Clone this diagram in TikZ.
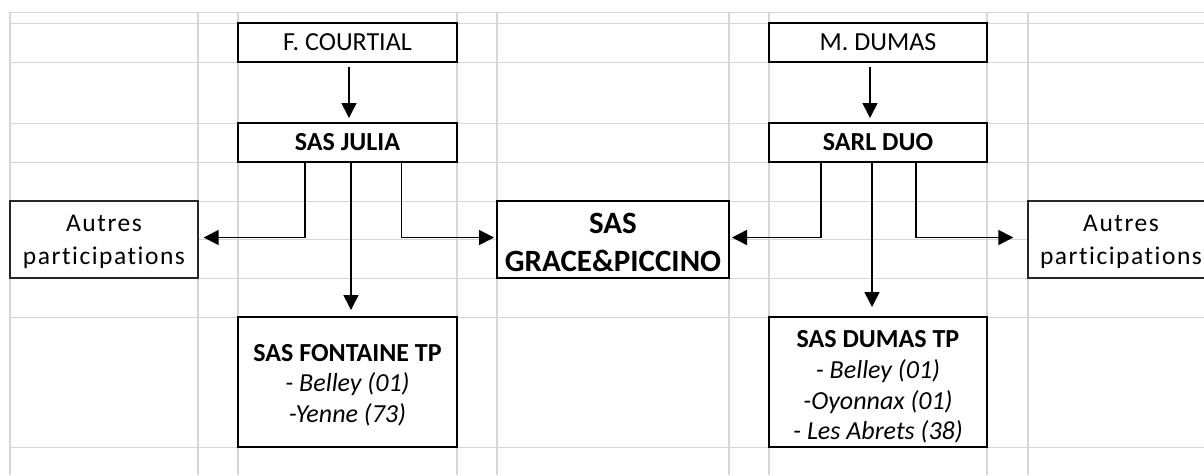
\documentclass[tikz,border=0pt]{standalone}
\usepackage{fontspec}
\setmainfont{Carlito}[Ligatures=NoCommon]
\usetikzlibrary{arrows.meta}
\definecolor{gridgray}{HTML}{D6D6D6}
\tikzset{
  gridv/.style={draw=gridgray, line width=1.6pt},
  gridh/.style={draw=gridgray, line width=1pt},
  entity/.style={draw=black, line width=2pt, fill=white, inner sep=0pt, align=center,
    font=\fontsize{26}{30.7}\selectfont},
  other/.style={draw=black!85, line width=1.4pt, fill=white, inner sep=0pt, align=center,
    font=\fontsize{25.5}{33}\selectfont\addfontfeatures{LetterSpace=6,Ligatures=NoCommon}},
  arr/.style={draw=black, line width=1.6pt, -{Triangle[length=15pt,width=15pt]}},
}
\begin{document}
\begin{tikzpicture}[x=1pt,y=-1pt]
\useasboundingbox (0,0) rectangle (1204,475);
\clip (0,0) rectangle (1204,475);
% spreadsheet grid
\foreach \gx in {10,198,238,457,497,729,769,987,1028}
  \draw[gridv] (\gx,12) -- (\gx,475);
\foreach \gy in {12,23,62,123,162,201,239,278,317,447}
  \draw[gridh] (10,\gy) -- (1204,\gy);
% boxes
\node[entity, minimum width=219pt, minimum height=39pt] (courtial) at (347.5,42.5) {F. COURTIAL};
\node[entity, minimum width=219pt, minimum height=39pt] (julia) at (347.5,142.5) {\bfseries SAS JULIA};
\node[entity, minimum width=218pt, minimum height=39pt] (mdumas) at (878,42.5) {M. DUMAS};
\node[entity, minimum width=218pt, minimum height=39pt] (duo) at (878,142.5) {\bfseries SARL DUO};
\node[entity, minimum width=219pt, minimum height=130pt] (fontaine) at (347.5,382)
  {\rule{0pt}{23pt}{\bfseries SAS FONTAINE TP}\\{\itshape - Belley (01)}\\{\itshape -Yenne (73)}};
\node[entity, minimum width=218pt, minimum height=130pt] (dumastp) at (878,382)
  {\rule{0pt}{27pt}{\bfseries SAS DUMAS TP}\\{\itshape - Belley (01)}\\{\itshape -Oyonnax (01)}\\{\itshape - Les Abrets (38)}};
\node[entity, minimum width=232pt, minimum height=77pt, font=\fontsize{31}{37.7}\selectfont\bfseries] (grace) at (613,239.5)
  {\rule{0pt}{26pt}SAS\\GRACE\&PICCINO};
\node[other, minimum width=188pt, minimum height=77pt] (autresL) at (104,239.5) {\rule{0pt}{22pt}Autres\\participations};
\node[other, minimum width=186pt, minimum height=77pt] (autresR) at (1121,239.5) {\rule{0pt}{22pt}Autres\\participations};
% connectors
\draw[arr] ([xshift=1.5pt,yshift=-4pt]courtial.south) -- ([xshift=1.5pt,yshift=4pt]julia.north);
\draw[arr] ([xshift=-8pt,yshift=-4pt]mdumas.south) -- ([xshift=-8pt,yshift=4pt]duo.north);
\draw[arr] ([xshift=-42.5pt]julia.south) |- ([xshift=5pt,yshift=2pt]autresL.east);
\draw[arr] ([xshift=3.5pt]julia.south) -- ([xshift=3.5pt,yshift=6pt]fontaine.north);
\draw[arr] ([xshift=54pt]julia.south) |- ([xshift=-2pt,yshift=2pt]grace.west);
\draw[arr] ([xshift=-57pt]duo.south) |- ([xshift=2pt,yshift=2pt]grace.east);
\draw[arr] ([xshift=-6pt]duo.south) -- ([xshift=-6pt,yshift=9pt]dumastp.north);
\draw[arr] ([xshift=38pt]duo.south) |- ([xshift=-14pt,yshift=2pt]autresR.west);
\end{tikzpicture}
\end{document}
